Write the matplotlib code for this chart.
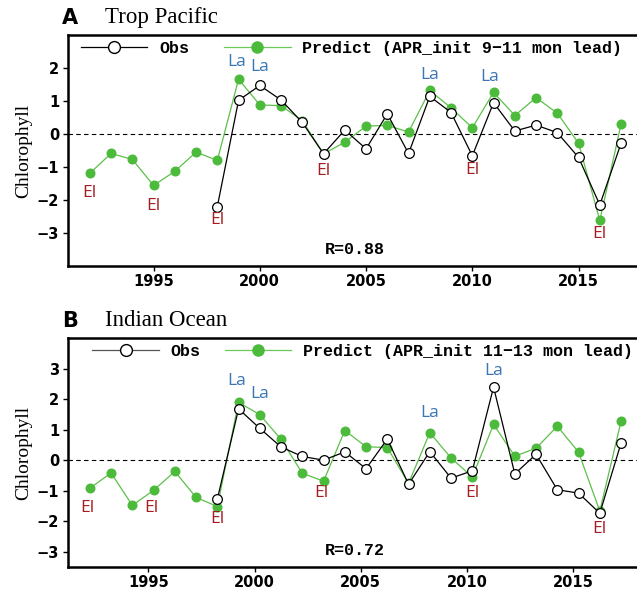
import numpy as np
import matplotlib.pyplot as plt
from matplotlib.lines import Line2D

# Data
years = np.arange(1992, 2018)
obs_years = np.arange(1998, 2018)

pac_pred = [-1.19, -0.59, -0.77, -1.56, -1.13, -0.55, -0.80, 1.66, 0.88, 0.86, 0.40, -0.60, -0.25,
            0.24, 0.26, 0.06, 1.32, 0.79, 0.19, 1.26, 0.56, 1.10, 0.63, -0.28, -2.62, 0.30]
pac_obs = [-2.20, 1.02, 1.47, 1.03, 0.35, -0.60, 0.12, -0.45, 0.61, -0.59,
           1.14, 0.65, -0.66, 0.95, 0.09, 0.27, 0.04, -0.71, -2.15, -0.28]

ind_pred = [-0.92, -0.42, -1.48, -0.99, -0.37, -1.22, -1.52, 1.89, 1.49, 0.68, -0.43, -0.69, 0.97,
            0.44, 0.41, -0.76, 0.90, 0.07, -0.55, 1.17, 0.13, 0.39, 1.11, 0.26, -1.67, 1.27]
ind_obs = [-1.28, 1.68, 1.04, 0.43, 0.12, 0.00, 0.27, -0.28, 0.69, -0.79,
           0.28, -0.59, -0.35, 2.39, -0.45, 0.19, -0.97, -1.08, -1.74, 0.56]

# ENSO labels (year, y, text)
pac_enso_x = [1992, 1995, 1998, 1998.9, 2000, 2003, 2008, 2010, 2010.8, 2016]
pac_enso_y = [-1.80, -2.17, -2.60, 2.17, 2.02, -1.12, 1.79, -1.09, 1.74, -3.03]
pac_enso_t = ['El', 'El', 'El', 'La', 'La', 'El', 'La', 'El', 'La', 'El']

ind_enso_x = [1991.9, 1994.9, 1998, 1998.9, 2000, 2002.9, 2008, 2010, 2011, 2016]
ind_enso_y = [-1.56, -1.56, -1.94, 2.58, 2.18, -1.09, 1.55, -1.09, 2.91, -2.26]
ind_enso_t = ['El', 'El', 'El', 'La', 'La', 'El', 'La', 'El', 'La', 'El']

xtick_years = [1995, 2000, 2005, 2010, 2015]

panels = [
    dict(letter='A', title='Trop Pacific', pred=pac_pred, obs=pac_obs,
         lead='9\u221211', r='R=0.88', ylim=(-4, 3), yticks=[-3, -2, -1, 0, 1, 2],
         ex=pac_enso_x, ey=pac_enso_y, et=pac_enso_t, tick_off=0.0,
         leg_x=0.023, colsp=2.1, obs_leg='black'),
    dict(letter='B', title='Indian Ocean', pred=ind_pred, obs=ind_obs,
         lead='11\u221213', r='R=0.72', ylim=(-3.5, 4.0), yticks=[-3, -2, -1, 0, 1, 2, 3],
         ex=ind_enso_x, ey=ind_enso_y, et=ind_enso_t, tick_off=-0.25,
         leg_x=0.043, colsp=1.45, obs_leg='#555555'),
]

green = '#4cbb3c'
W, H = 637, 591
fig = plt.figure(figsize=(W / 100, H / 100), dpi=100)

# axes boxes in pixels: (top, bottom)
boxes = [(35, 266), (338, 567)]
x0, x1 = 1990.95, 2018.0
left_px, px_per_yr = 67.5, 21.25

for p, (top, bot) in zip(panels, boxes):
    ax = fig.add_axes([left_px / W, 1 - bot / H, (x1 - x0) * px_per_yr / W, (bot - top) / H])
    ax.plot(years, p['pred'], '-o', color='#5cc04a', lw=0.9, ms=6.2,
            mfc=green, mec=green, zorder=3)
    ax.plot(obs_years, p['obs'], '-o', color='black', lw=0.9, ms=7.0,
            mfc='white', mec='black', mew=0.9, zorder=4)
    ax.axhline(0, color='black', lw=0.8, ls=(0, (4, 3)), zorder=1)

    for x, y, t in zip(p['ex'], p['ey'], p['et']):
        ax.text(x, y, t, ha='center', va='center', fontsize=12.5, family='Open Sans',
                color='#a51d21' if t == 'El' else '#3a76b4', zorder=5)

    ax.text(0.5, 0.07, p['r'], transform=ax.transAxes, ha='center', va='center',
            fontsize=12, family='Liberation Mono', weight='bold')

    handles = [
        Line2D([], [], color=p['obs_leg'], lw=0.9, marker='o', ms=8.5, mfc='white', mec='black'),
        Line2D([], [], color='#6cc85a', lw=0.9, marker='o', ms=8, mfc=green, mec=green),
    ]
    labels = ['Obs', 'Predict (APR_init %s mon lead)' % p['lead']]
    ax.legend(handles, labels, loc='upper left', bbox_to_anchor=(p['leg_x'], 0.975), ncol=2,
              frameon=False, handlelength=4.0, handletextpad=0.7, columnspacing=p['colsp'],
              borderaxespad=0, borderpad=0,
              prop=dict(family='Liberation Mono', weight='bold', size=12))

    ax.set_xlim(x0, x1)
    ax.set_ylim(*p['ylim'])
    ax.set_xticks(np.array(xtick_years) + p['tick_off'])
    ax.set_xticklabels([str(y) for y in xtick_years])
    ax.set_yticks(p['yticks'])
    ax.set_yticklabels([('\u2212%d' % -v) if v < 0 else str(v) for v in p['yticks']])
    ax.tick_params(direction='out', length=3.5, width=1, labelsize=10.5, pad=2.5)
    for lab in ax.get_xticklabels() + ax.get_yticklabels():
        lab.set_fontweight('bold')
    for s in ax.spines.values():
        s.set_linewidth(1.8)
    ax.set_ylabel('Chlorophyll', family='Liberation Serif', fontsize=14, labelpad=3)

    fig.text(62 / W, 1 - (top - 17) / H, p['letter'], fontsize=15, weight='bold',
             family='DejaVu Sans', va='center', ha='left')
    fig.text(105 / W, 1 - (top - 17) / H, p['title'], fontsize=16.5,
             family='Liberation Serif', va='center', ha='left')

fig.savefig('out.png', dpi=100)
